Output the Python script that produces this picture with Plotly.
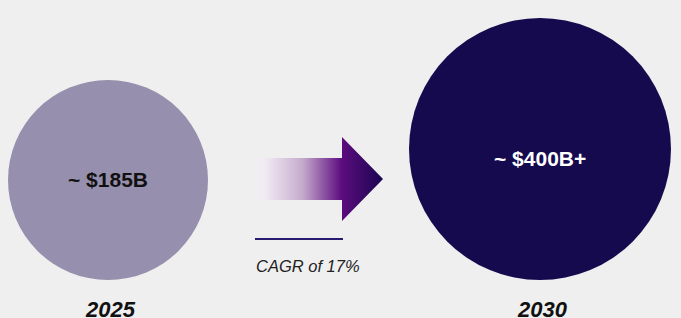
import plotly.graph_objects as go

# ---- data ----
years = ["2025", "2030"]
market_labels = ["~ $185B", "~ $400B+"]
market_values_bn = [185, 400]
cagr_label = "CAGR of 17%"

# ---- presentation ----
W, H = 681, 318
BG = "#efefef"
FONT = "Liberation Sans, Arial, sans-serif"
circle_x = [108, 540]
circle_y = [180, 149]
circle_d = [200, 262]
circle_colors = ["#978fae", "#160a4e"]
label_y = [179, 158]
text_colors = ["#111111", "#ffffff"]
year_y = 309

fig = go.Figure()

# circles
fig.add_trace(go.Scatter(
    x=circle_x, y=circle_y, mode="markers",
    marker=dict(size=circle_d, color=circle_colors, opacity=1,
                line=dict(width=0)),
    customdata=market_values_bn,
    hoverinfo="skip", showlegend=False,
))

for xx, yy, lab, col in zip(circle_x, label_y, market_labels, text_colors):
    fig.add_annotation(x=xx, y=yy, text="<b>" + lab + "</b>",
                       showarrow=False,
                       font=dict(family=FONT, size=21, color=col))

# gradient arrow
ax = [250, 342, 342, 383, 342, 342, 250, 250]
ay = [158, 158, 137, 179, 221, 200, 200, 158]
fig.add_trace(go.Scatter(
    x=ax, y=ay, mode="lines", fill="toself",
    line=dict(width=0, color="rgba(0,0,0,0)"),
    fillgradient=dict(type="horizontal", colorscale=[
        [0.0, "rgba(245,240,246,0)"],
        [0.12, "rgba(240,232,242,0.9)"],
        [0.4, "#c4a8cc"],
        [0.69, "#5c0c7e"],
        [1.0, "#1a0650"],
    ]),
    hoverinfo="skip", showlegend=False,
))

# CAGR underline
fig.add_shape(type="line", x0=255, x1=343, y0=239, y1=239,
              line=dict(color="#2a1a70", width=2))

fig.add_annotation(x=308, y=266, text="<i>" + cagr_label + "</i>",
                   showarrow=False,
                   font=dict(family=FONT, size=16.5, color="#222222"))

for xx, yr in zip(circle_x, years):
    fig.add_annotation(x=xx + 2, y=year_y, text="<b><i>" + yr + "</i></b>",
                       showarrow=False,
                       font=dict(family=FONT, size=22, color="#111111"))

fig.update_layout(
    width=W, height=H,
    margin=dict(l=0, r=0, t=0, b=0),
    paper_bgcolor=BG, plot_bgcolor=BG,
    xaxis=dict(range=[0, W], visible=False, fixedrange=True),
    yaxis=dict(range=[H, 0], visible=False, fixedrange=True),
)

fig.write_html(
    "out.html",
    config={"displayModeBar": False, "staticPlot": True},
    post_script="document.body.style.margin='0';"
                "document.body.style.background='#efefef';"
                "document.body.style.overflow='hidden';",
)
